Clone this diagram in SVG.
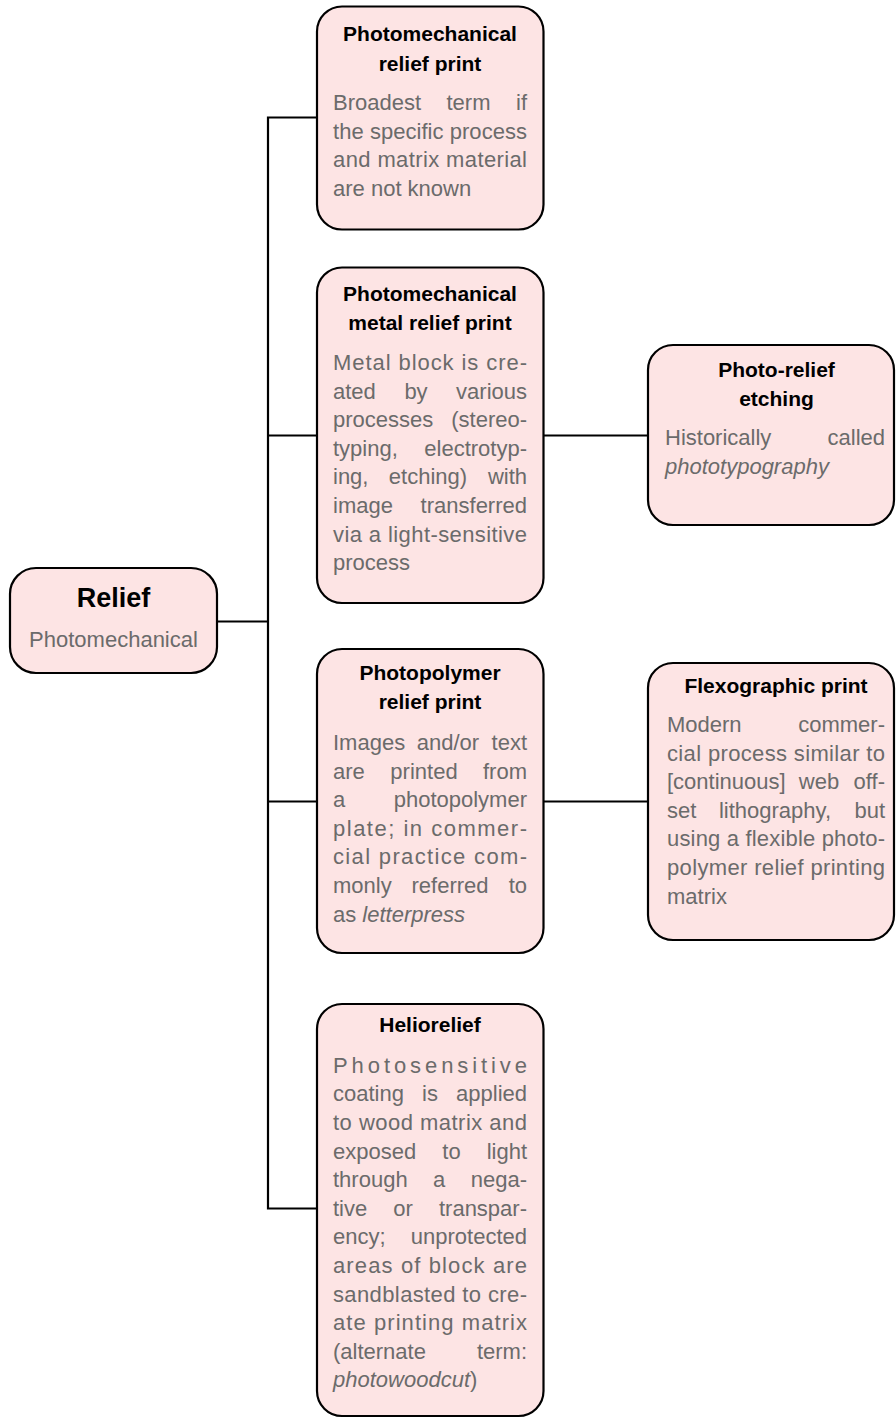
<svg xmlns="http://www.w3.org/2000/svg" width="896" height="1418" viewBox="0 0 896 1418">
  <style>
    .box { fill: #fde4e4; stroke: #000; stroke-width: 2.2; }
    .wire { fill: none; stroke: #000; stroke-width: 2.2; }
    .ttl { font-family: "Liberation Sans", Arial, sans-serif; font-weight: bold; font-size: 21px; fill: #000; text-anchor: middle; }
    .big { font-size: 27px; }
    .txt { font-family: "Liberation Sans", Arial, sans-serif; font-size: 22px; fill: #6b6b6b; }
    .mid { text-anchor: middle; }
    .end { text-anchor: end; }
    .it { font-style: italic; }
  </style>

  <!-- connectors -->
  <g id="connectors">
    <path class="wire" d="M217 621.5 H268"/>
    <path class="wire" d="M317 117.5 H268 V1208.5 H317"/>
    <path class="wire" d="M268 435.5 H317"/>
    <path class="wire" d="M268 801.5 H317"/>
    <path class="wire" d="M543.5 435.5 H648"/>
    <path class="wire" d="M543.5 801.5 H648"/>
  </g>

  <!-- root node -->
  <g id="relief">
    <rect class="box" x="10" y="568" width="207" height="105" rx="26"/>
    <text class="ttl big" x="113.5" y="607">Relief</text>
    <text class="txt mid" x="113.5" y="647">Photomechanical</text>
  </g>

  <!-- photomechanical relief print -->
  <g id="photomechanical-relief-print">
    <rect class="box" x="317" y="6.5" width="226.5" height="223" rx="25"/>
    <text class="ttl" x="430" y="40.7">Photomechanical</text>
    <text class="ttl" x="430" y="70.5">relief print</text>
    <text class="txt" x="333" y="110">Broadest</text>
    <text class="txt mid" x="468.5" y="110">term</text>
    <text class="txt end" x="527" y="110">if</text>
    <text class="txt" x="333" y="138.6" textLength="194">the specific process</text>
    <text class="txt" x="333" y="167.2" textLength="194">and matrix material</text>
    <text class="txt" x="333" y="195.8">are not known</text>
  </g>

  <!-- photomechanical metal relief print -->
  <g id="photomechanical-metal-relief-print">
    <rect class="box" x="317" y="267.5" width="226.5" height="335.5" rx="25"/>
    <text class="ttl" x="430" y="300.7">Photomechanical</text>
    <text class="ttl" x="430" y="330">metal relief print</text>
    <text class="txt" x="333" y="370" textLength="194">Metal block is cre-</text>
    <text class="txt" x="333" y="398.6">ated</text>
    <text class="txt mid" x="416" y="398.6">by</text>
    <text class="txt end" x="527" y="398.6">various</text>
    <text class="txt" x="333" y="427.2">processes</text>
    <text class="txt end" x="527" y="427.2">(stereo-</text>
    <text class="txt" x="333" y="455.8">typing,</text>
    <text class="txt end" x="527" y="455.8">electrotyp-</text>
    <text class="txt" x="333" y="484.4">ing,</text>
    <text class="txt mid" x="428" y="484.4">etching)</text>
    <text class="txt end" x="527" y="484.4">with</text>
    <text class="txt" x="333" y="513">image</text>
    <text class="txt end" x="527" y="513">transferred</text>
    <text class="txt" x="333" y="541.6" textLength="194">via a light-sensitive</text>
    <text class="txt" x="333" y="570.2">process</text>
  </g>

  <!-- photo-relief etching -->
  <g id="photo-relief-etching">
    <rect class="box" x="648" y="345" width="246" height="180" rx="25"/>
    <text class="ttl" x="776.5" y="376.7">Photo-relief</text>
    <text class="ttl" x="776.5" y="405.5">etching</text>
    <text class="txt" x="665" y="445">Historically</text>
    <text class="txt end" x="885" y="445">called</text>
    <text class="txt it" x="665" y="473.6">phototypography</text>
  </g>

  <!-- photopolymer relief print -->
  <g id="photopolymer-relief-print">
    <rect class="box" x="317" y="649" width="226.5" height="304" rx="25"/>
    <text class="ttl" x="430" y="680">Photopolymer</text>
    <text class="ttl" x="430" y="708.5">relief print</text>
    <text class="txt" x="333" y="750">Images</text>
    <text class="txt mid" x="448" y="750">and/or</text>
    <text class="txt end" x="527" y="750">text</text>
    <text class="txt" x="333" y="778.6">are</text>
    <text class="txt mid" x="424" y="778.6">printed</text>
    <text class="txt end" x="527" y="778.6">from</text>
    <text class="txt" x="333" y="807.2">a</text>
    <text class="txt end" x="527" y="807.2">photopolymer</text>
    <text class="txt" x="333" y="835.8" textLength="194">plate; in commer-</text>
    <text class="txt" x="333" y="864.4" textLength="194">cial practice com-</text>
    <text class="txt" x="333" y="893">monly</text>
    <text class="txt mid" x="450" y="893">referred</text>
    <text class="txt end" x="527" y="893">to</text>
    <text class="txt" x="333" y="921.6">as <tspan class="it">letterpress</tspan></text>
  </g>

  <!-- flexographic print -->
  <g id="flexographic-print">
    <rect class="box" x="648" y="663" width="246" height="277" rx="25"/>
    <text class="ttl" x="776" y="693">Flexographic print</text>
    <text class="txt" x="667" y="732">Modern</text>
    <text class="txt end" x="885" y="732">commer-</text>
    <text class="txt" x="667" y="760.6" textLength="218">cial process similar to</text>
    <text class="txt" x="667" y="789.2">[continuous]</text>
    <text class="txt mid" x="819" y="789.2">web</text>
    <text class="txt end" x="885" y="789.2">off-</text>
    <text class="txt" x="667" y="817.8">set</text>
    <text class="txt mid" x="775" y="817.8">lithography,</text>
    <text class="txt end" x="885" y="817.8">but</text>
    <text class="txt" x="667" y="846.4" textLength="218">using a flexible photo-</text>
    <text class="txt" x="667" y="875" textLength="218">polymer relief printing</text>
    <text class="txt" x="667" y="903.6">matrix</text>
  </g>

  <!-- heliorelief -->
  <g id="heliorelief">
    <rect class="box" x="317" y="1004" width="226.5" height="412" rx="25"/>
    <text class="ttl" x="430" y="1031.7">Heliorelief</text>
    <text class="txt" x="333" y="1072.7" textLength="194">Photosensitive</text>
    <text class="txt" x="333" y="1101.3">coating</text>
    <text class="txt mid" x="430" y="1101.3">is</text>
    <text class="txt end" x="527" y="1101.3">applied</text>
    <text class="txt" x="333" y="1129.9" textLength="194">to wood matrix and</text>
    <text class="txt" x="333" y="1158.5">exposed</text>
    <text class="txt mid" x="451.5" y="1158.5">to</text>
    <text class="txt end" x="527" y="1158.5">light</text>
    <text class="txt" x="333" y="1187.1">through</text>
    <text class="txt mid" x="439" y="1187.1">a</text>
    <text class="txt end" x="527" y="1187.1">nega-</text>
    <text class="txt" x="333" y="1215.7">tive</text>
    <text class="txt mid" x="403" y="1215.7">or</text>
    <text class="txt end" x="527" y="1215.7">transpar-</text>
    <text class="txt" x="333" y="1244.3">ency;</text>
    <text class="txt end" x="527" y="1244.3">unprotected</text>
    <text class="txt" x="333" y="1272.9" textLength="194">areas of block are</text>
    <text class="txt" x="333" y="1301.5" textLength="194">sandblasted to cre-</text>
    <text class="txt" x="333" y="1330.1" textLength="194">ate printing matrix</text>
    <text class="txt" x="333" y="1358.7">(alternate</text>
    <text class="txt end" x="527" y="1358.7">term:</text>
    <text class="txt" x="333" y="1387.3"><tspan class="it">photowoodcut</tspan>)</text>
  </g>
</svg>
